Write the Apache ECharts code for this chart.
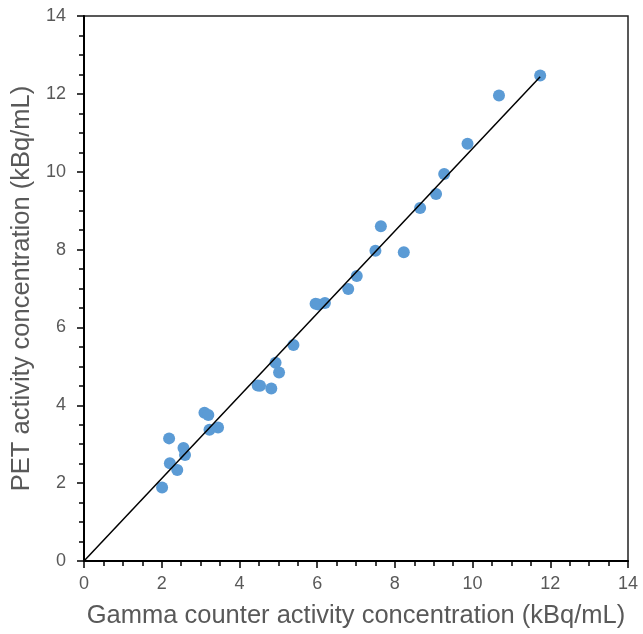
<!DOCTYPE html>
<html>
<head>
<meta charset="utf-8">
<script src="https://cdn.jsdelivr.net/npm/echarts@6.0.0/dist/echarts.min.js"></script>
<style>
  html, body { margin: 0; padding: 0; background: #fff; }
  #chart { width: 643px; height: 634px; }
</style>
</head>
<body>
<div id="chart"></div>
<script>
// gamma counter (x) vs PET (y), kBq/mL
const gammaValues = [
  2.01, 2.19, 2.21, 2.40, 2.56, 2.60, 3.10, 3.20, 3.23, 3.45,
  4.47, 4.53, 4.82, 4.93, 5.02, 5.39, 5.96, 6.03, 6.20, 6.80,
  7.02, 7.50, 7.64, 8.23, 8.65, 9.06, 9.27, 9.87, 10.68, 11.74
];
const petValues = [
  1.89, 3.15, 2.51, 2.34, 2.90, 2.72, 3.81, 3.75, 3.37, 3.43,
  4.51, 4.50, 4.43, 5.09, 4.84, 5.55, 6.61, 6.59, 6.63, 6.99,
  7.32, 7.97, 8.60, 7.93, 9.07, 9.43, 9.94, 10.72, 11.96, 12.47
];
// fitted line end points
const fitX = [0, 11.74];
const fitY = [0, 12.44];

const TEXT = '#595959';
const FONT = 'Liberation Sans, Arial, sans-serif';

const points = gammaValues.map((x, i) => [x, petValues[i]]);
const fitLine = fitX.map((x, i) => [x, fitY[i]]);

const axisBase = (name, gap) => ({
  type: 'value',
  min: 0,
  max: 14,
  interval: 2,
  name,
  nameLocation: 'middle',
  nameGap: gap,
  nameTextStyle: { color: TEXT, fontSize: 25.5, fontFamily: FONT },
  axisLine: { show: true, onZero: false, lineStyle: { color: '#000', width: 2 } },
  axisTick: { show: true, inside: false, length: 7, lineStyle: { color: '#000', width: 1.5 } },
  minorTick: { show: true, splitNumber: 4, length: 5, lineStyle: { color: '#000', width: 1.5 } },
  splitLine: { show: false }
});

const chart = echarts.init(document.getElementById('chart'), null, { renderer: 'canvas' });
chart.setOption({
  animation: false,
  backgroundColor: '#fff',
  grid: {
    left: 84, right: 15, top: 16, bottom: 72,
    show: true, borderColor: '#222', borderWidth: 1.5, backgroundColor: 'transparent'
  },
  xAxis: {
    ...axisBase('Gamma counter activity concentration (kBq/mL)', 42),
    axisLabel: { color: TEXT, fontSize: 18, fontFamily: FONT, margin: 14 }
  },
  yAxis: {
    ...axisBase('PET activity concentration (kBq/mL)', 46),
    axisLabel: { color: TEXT, fontSize: 18, fontFamily: FONT, margin: 18 }
  },
  series: [
    {
      type: 'line',
      data: fitLine,
      showSymbol: false,
      lineStyle: { color: '#000', width: 1.5 },
      z: 3
    },
    {
      type: 'scatter',
      data: points,
      symbolSize: 12,
      itemStyle: { color: '#5B9BD5', opacity: 1 },
      z: 2
    }
  ]
});
</script>
</body>
</html>
